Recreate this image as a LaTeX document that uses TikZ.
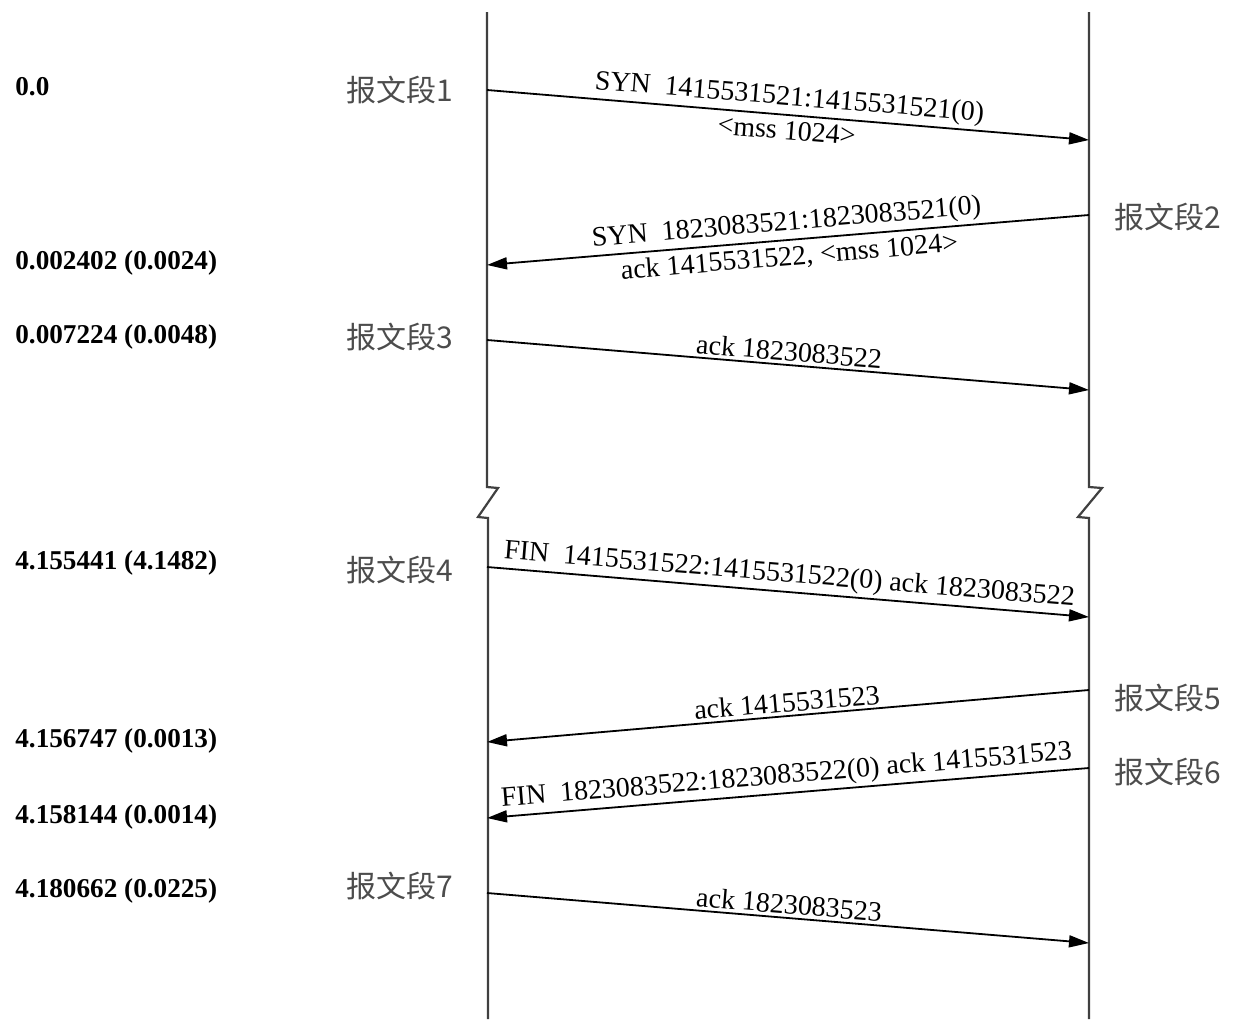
\documentclass[tikz,border=0pt]{standalone}
\usepackage{fontspec}
\setmainfont{Liberation Serif}
\newfontfamily\cjk{Noto Sans CJK SC}
\usetikzlibrary{arrows.meta}
\tikzset{
  life/.style={draw=black!75,line width=1.1pt,line join=miter},
  msg/.style={-{Triangle[length=10pt,width=6pt]},draw=black,line width=0.9pt},
  tlabel/.style={anchor=west,font=\fontsize{13.6}{15}\selectfont\bfseries,inner sep=0pt},
  seg/.style={font=\cjk\fontsize{15}{17}\selectfont,text=black!70,inner sep=0pt},
  lab/.style={font=\fontsize{14}{15}\selectfont,sloped,inner sep=0.5pt},
}
\begin{document}
\begin{tikzpicture}[x=0.5pt,y=-0.5pt]
  \useasboundingbox (0,0) rectangle (1233,1019);
  % lifelines, broken in the middle
  \coordinate (ltop) at (487,12);   \coordinate (lbot) at (488,1019);
  \coordinate (rtop) at (1089,12);  \coordinate (rbot) at (1089,1019);
  \draw[life] (ltop) -- (487,487) -- (498,488) -- (478,517) -- (488,518) -- (lbot);
  \draw[life] (rtop) -- (1089,487) -- (1102,488) -- (1078,517) -- (1089,518) -- (rbot);
  % message end points
  \coordinate (a1) at (487,90);   \coordinate (b1) at (1089,140);
  \coordinate (a2) at (1089,215); \coordinate (b2) at (487,265);
  \coordinate (a3) at (487,340);  \coordinate (b3) at (1089,390);
  \coordinate (a4) at (487,567);  \coordinate (b4) at (1089,617);
  \coordinate (a5) at (1089,690); \coordinate (b5) at (487,742);
  \coordinate (a6) at (1089,768); \coordinate (b6) at (487,818);
  \coordinate (a7) at (487,893);  \coordinate (b7) at (1089,943);
  \draw[msg] (a1) -- node[lab,above=1pt] (m1) {SYN\ \ 1415531521:1415531521(0)}
                     node[lab,below=2pt] (m1b) {<mss 1024>} (b1);
  \draw[msg] (a2) -- node[lab,above=1pt] (m2) {SYN\ \ 1823083521:1823083521(0)}
                     node[lab,below=2pt] (m2b) {ack 1415531522, <mss 1024>} (b2);
  \draw[msg] (a3) -- node[lab,above=1pt] (m3) {ack 1823083522} (b3);
  \draw[msg] (a4) -- node[lab,above=1pt] (m4) {FIN\ \ 1415531522:1415531522(0) ack 1823083522} (b4);
  \draw[msg] (a5) -- node[lab,above=1pt] (m5) {ack 1415531523} (b5);
  \draw[msg] (a6) -- node[lab,above=1pt] (m6) {FIN\ \ 1823083522:1823083522(0) ack 1415531523} (b6);
  \draw[msg] (a7) -- node[lab,above=1pt] (m7) {ack 1823083523} (b7);
  % segment names
  \node[seg] (s1) at (400,90) {报文段1};
  \node[seg] (s2) at (1168,217) {报文段2};
  \node[seg] (s3) at (400,337) {报文段3};
  \node[seg] (s4) at (400,570) {报文段4};
  \node[seg] (s5) at (1168,698) {报文段5};
  \node[seg] (s6) at (1168,772) {报文段6};
  \node[seg] (s7) at (400,886) {报文段7};
  % times
  \node[tlabel] (t1) at (15,87) {0.0};
  \node[tlabel] (t2) at (15,263) {0.002402 (0.0024)};
  \node[tlabel] (t3) at (15,337) {0.007224 (0.0048)};
  \node[tlabel] (t4) at (15,563) {4.155441 (4.1482)};
  \node[tlabel] (t5) at (15,741) {4.156747 (0.0013)};
  \node[tlabel] (t6) at (15,817) {4.158144 (0.0014)};
  \node[tlabel] (t7) at (15,891) {4.180662 (0.0225)};
\end{tikzpicture}
\end{document}
